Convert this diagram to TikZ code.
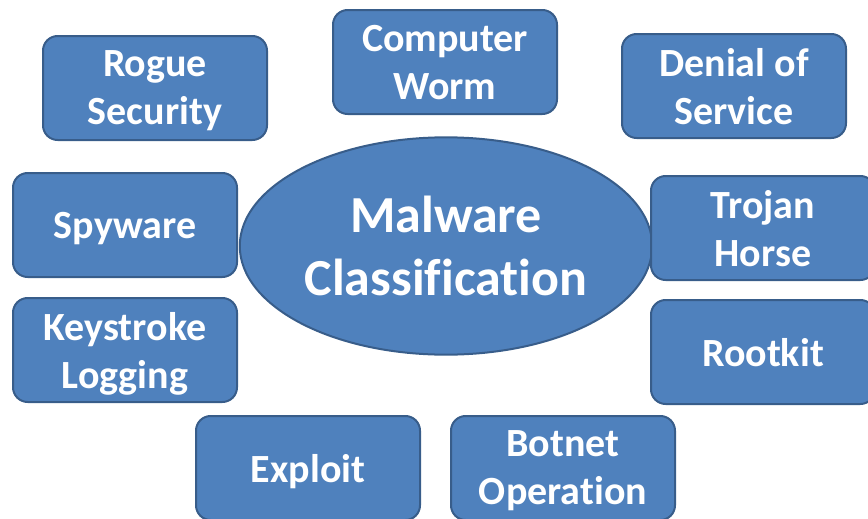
\documentclass[tikz,border=0pt]{standalone}
\usepackage{fontspec}
\setmainfont{Carlito}[Ligatures=NoCommon]
\usetikzlibrary{shapes.geometric,positioning}
\definecolor{boxblue}{HTML}{4F81BD}
\definecolor{boxline}{HTML}{385D8A}

\begin{document}
\begin{tikzpicture}[x=0.75pt,y=-0.75pt,
                    kind/.style={rectangle,rounded corners=11pt,draw=boxline,line width=1.5pt,
                                 fill=boxblue,text=white,align=center,text depth=0pt,
                                 minimum width=168pt,minimum height=78pt,
                                 font=\fontsize{30}{36}\selectfont\bfseries},
                    hub/.style={ellipse,draw=boxline,line width=1.5pt,fill=boxblue,
                                text=white,align=center,
                                minimum width=302pt,minimum height=163pt,
                                font=\fontsize{39}{47}\selectfont\bfseries}]
                    \useasboundingbox (0,0) rectangle (868,518);

                    % centre
                    \node (Malware) [hub] at (446,246) {Malware\\Classification};

                    % top row
                    \node (Rogue) [kind] at (155,88) {Rogue\\Security};
                    \node (Worm) [kind] at (445,62) {Computer\\Worm};
                    \node (DoS) [kind] at (734,86) {Denial of\\Service};

                    % sides
                    \node (Spyware) [kind] at (125,225) {Spyware};
                    \node (Keylog) [kind] at (125,350) {Keystroke\\Logging};
                    \node (Trojan) [kind] at (763,228) {Trojan\\Horse};
                    \node (Rootkit) [kind] at (763,352) {Rootkit};

                    % bottom row
                    \node (Exploit) [kind] at (308,468) {Exploit};
                    \node (Botnet) [kind] at (563,468) {Botnet\\Operation};
\end{tikzpicture}
\end{document}
